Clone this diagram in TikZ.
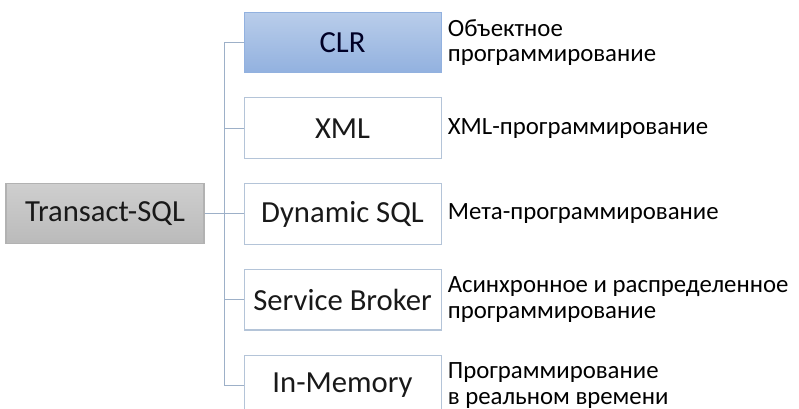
\documentclass[tikz,border=0pt]{standalone}
\usepackage{fontspec}
\setmainfont{Carlito}
\usetikzlibrary{positioning}
\definecolor{linkcol}{HTML}{9DB0C8}
\definecolor{boxline}{HTML}{B4C4D8}
\definecolor{clrtop}{HTML}{B9CDEA}
\definecolor{clrbot}{HTML}{92B1DF}
\tikzstyle{item} = [draw=boxline, fill=white, rectangle, line width=0.8pt,
    minimum width=147.75pt, minimum height=45.5pt, inner sep=0pt,
    font=\fontsize{23}{26}\selectfont, text=black!90]
\tikzstyle{root} = [item, draw=black!30, top color=black!19, bottom color=black!27,
    minimum width=148.5pt, minimum height=45pt]
\tikzstyle{hot} = [item, draw=clrbot, top color=clrtop, bottom color=clrbot, text=blue!15!black]
\tikzstyle{note} = [inner sep=0pt, align=left, font=\fontsize{18.6}{19}\selectfont]
\tikzstyle{link} = [draw=linkcol, line width=0.8pt]

\begin{document}
\begin{tikzpicture}[node distance=18pt]
	  \clip (0,0) rectangle (599.25pt,306.75pt);
	  \node [hot] (clr) at (256.9pt,274.9pt) {CLR};
	  \node [item, below=of clr] (xml) {XML};
	  \node [item, below=of xml] (dyn) {Dynamic SQL};
	  \node [item, below=of dyn] (broker) {Service Broker};
	  \node [item, below=of broker] (inmem) {In-Memory};
	  \node [root, left=29.25pt of dyn] (tsql) {Transact-SQL};
	  \node [note, right=4.5pt of clr] (clrnote) {Объектное\\программирование};
	  \node [note, right=4.5pt of xml] (xmlnote) {XML-программирование};
	  \node [note, right=4.5pt of dyn] (dynnote) {Мета-программирование};
	  \node [note, right=4.5pt of broker] (brokernote) {Асинхронное и распределенное\\программирование};
	  \node [note, right=4.5pt of inmem] (inmemnote) {Программирование\\в реальном времени};
	  \draw [link] (tsql.east) -- ++(15pt,0) |- (clr.west);
	  \draw [link] (tsql.east) -- ++(15pt,0) |- (xml.west);
	  \draw [link] (tsql.east) -- (dyn.west);
	  \draw [link] (tsql.east) -- ++(15pt,0) |- (broker.west);
	  \draw [link] (tsql.east) -- ++(15pt,0) |- (inmem.west);
\end{tikzpicture}
\end{document}
